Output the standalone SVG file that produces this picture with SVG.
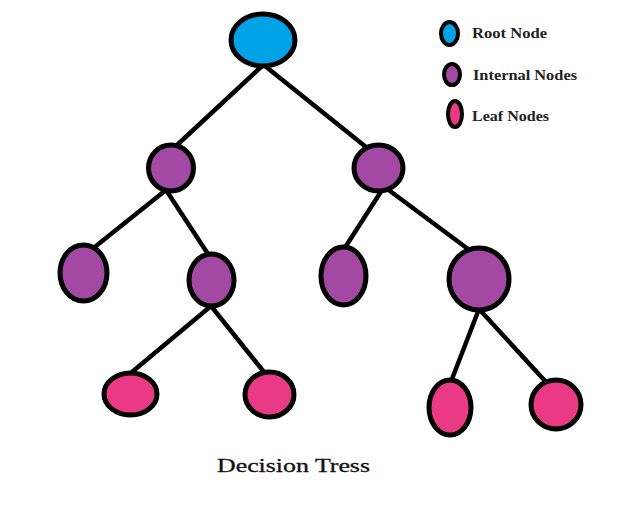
<svg xmlns="http://www.w3.org/2000/svg" width="631" height="510" viewBox="0 0 631 510">
<style>
.n{stroke:#000;stroke-width:5}
.root{fill:#00A2E8}
.int{fill:#A349A4}
.leaf{fill:#EA3A85}
.e{stroke:#000;stroke-width:4.5;stroke-linecap:round;fill:none}
.lg{font-family:"Liberation Serif",serif;font-weight:bold;font-size:14px;fill:#222}
.t{font-family:"Liberation Serif",serif;font-size:19px;fill:#111;stroke:#111;stroke-width:0.3}
</style>
<rect width="631" height="510" fill="#fff"/>
<g id="connectors">
<line class="e" x1="262" y1="66" x2="176" y2="146"/>
<line class="e" x1="265" y1="66" x2="366" y2="147"/>
<line class="e" x1="166" y1="190" x2="96" y2="246"/>
<line class="e" x1="166" y1="190" x2="208" y2="254"/>
<line class="e" x1="382" y1="190" x2="346" y2="246"/>
<line class="e" x1="386" y1="188" x2="468" y2="249"/>
<line class="e" x1="211" y1="306" x2="132" y2="372"/>
<line class="e" x1="211" y1="306" x2="264" y2="372"/>
<line class="e" x1="479" y1="309" x2="452" y2="379"/>
<line class="e" x1="479" y1="309" x2="546" y2="382"/>
</g>
<g id="root"><ellipse class="n root" cx="263" cy="40" rx="32" ry="26"/></g>
<g id="n1"><ellipse class="n int" cx="171" cy="168" rx="22.5" ry="23"/></g>
<g id="n2"><ellipse class="n int" cx="378.5" cy="168" rx="24.5" ry="23"/></g>
<g id="n3"><ellipse class="n int" cx="83.5" cy="273" rx="23.5" ry="28"/></g>
<g id="n4"><ellipse class="n int" cx="211.5" cy="280" rx="22.5" ry="26"/></g>
<g id="n5"><ellipse class="n int" cx="343.5" cy="276" rx="22.5" ry="29"/></g>
<g id="n6"><ellipse class="n int" cx="479" cy="279" rx="30" ry="31"/></g>
<g id="l1"><ellipse class="n leaf" cx="130.5" cy="394" rx="26.5" ry="21"/></g>
<g id="l2"><ellipse class="n leaf" cx="269.5" cy="394.5" rx="24.5" ry="22.5"/></g>
<g id="l3"><ellipse class="n leaf" cx="450" cy="407.5" rx="21" ry="27.5"/></g>
<g id="l4"><ellipse class="n leaf" cx="556" cy="404.5" rx="25" ry="24.5"/></g>
<g id="legend">
<ellipse class="n root" cx="449.5" cy="33.5" rx="8.5" ry="11.5" style="stroke-width:4"/>
<text class="lg" x="472" y="38" textLength="75" lengthAdjust="spacingAndGlyphs">Root Node</text>
<ellipse class="n int" cx="452" cy="74.5" rx="8" ry="10.5" style="stroke-width:4"/>
<text class="lg" x="473" y="80" textLength="104" lengthAdjust="spacingAndGlyphs">Internal Nodes</text>
<ellipse class="n leaf" cx="455" cy="114" rx="7" ry="13" style="stroke-width:4"/>
<text class="lg" x="472" y="121" textLength="77" lengthAdjust="spacingAndGlyphs">Leaf Nodes</text>
</g>
<g id="title"><text class="t" x="217" y="472" textLength="153" lengthAdjust="spacingAndGlyphs">Decision Tress</text></g>
</svg>
